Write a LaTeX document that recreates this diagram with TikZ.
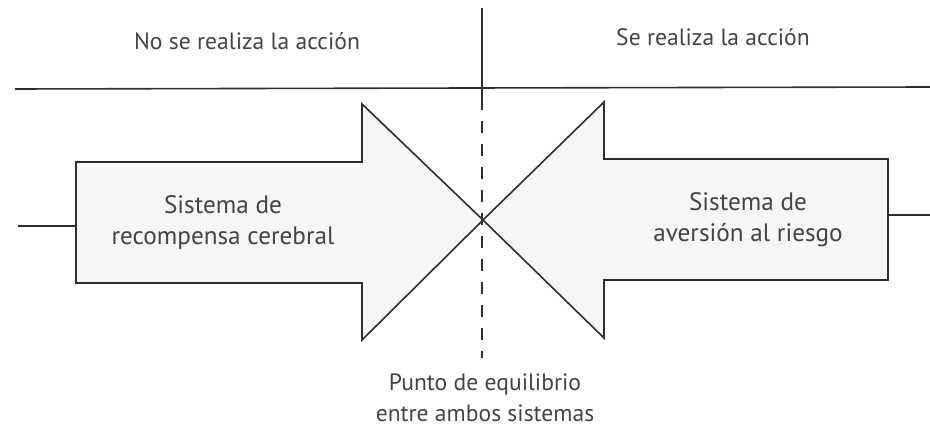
\documentclass[tikz,border=0pt]{standalone}
\usepackage{fontspec}
\setmainfont{PT Sans}
\begin{document}
\begin{tikzpicture}[x=0.5pt, y=-0.5pt]
        % Farben
        \definecolor{ciLine}{HTML}{2E2E2E}
        \definecolor{ciText}{HTML}{444444}
        \definecolor{ciArea}{HTML}{F6F6F6}
        \tikzset{
            label text/.style={font=\fontsize{11.8}{15.5}\selectfont, text=ciText, align=center},
            frame line/.style={draw=ciLine, line width=0.8pt},
            arrow shape/.style={frame line, fill=ciArea, line join=miter},
        }
        \useasboundingbox (0,0) rectangle (930,427);

        % Punkte
        \coordinate (tip) at (483,220);
        \coordinate (achseOben) at (482,8);
        \coordinate (achseMitte) at (482,98);
        \coordinate (achseUnten) at (482,358);
        \coordinate (linienL) at (15,89);
        \coordinate (linienR) at (930,87);
        \coordinate (anschlussL) at (18,226);
        \coordinate (pfeilL) at (76,226);
        \coordinate (anschlussR) at (930,215);
        \coordinate (pfeilR) at (888,215);

        % Pfeile
        \draw[arrow shape] (76,162) -- (362,162) -- (362,104) -- (tip)
            -- (362,340) -- (362,283) -- (76,283) -- cycle;
        \draw[arrow shape] (888,159) -- (604,159) -- (604,102) -- (tip)
            -- (604,338) -- (604,280) -- (888,280) -- cycle;

        % Linien
        \draw[frame line] (linienL) -- (linienR);
        \draw[frame line] (achseOben) -- (achseMitte);
        \draw[frame line, dash pattern=on 6pt off 5.5pt] (achseMitte) -- (achseUnten);
        \draw[frame line] (anschlussL) -- (pfeilL);
        \draw[frame line] (pfeilR) -- (anschlussR);

        % Texte
        \node[label text] (keineAktion) at (247,41) {No se realiza la acción};
        \node[label text] (aktion) at (713,37) {Se realiza la acción};
        \node[label text, font=\fontsize{12.6}{15.5}\selectfont] (belohnung) at (223,223) {Sistema de\\recompensa cerebral};
        \node[label text, font=\fontsize{12.6}{15.5}\selectfont] (aversion) at (748,220) {Sistema de\\aversión al riesgo};
        \node[label text] (gleichgewicht) at (485,398) {Punto de equilibrio\\entre ambos sistemas};
\end{tikzpicture}
\end{document}
